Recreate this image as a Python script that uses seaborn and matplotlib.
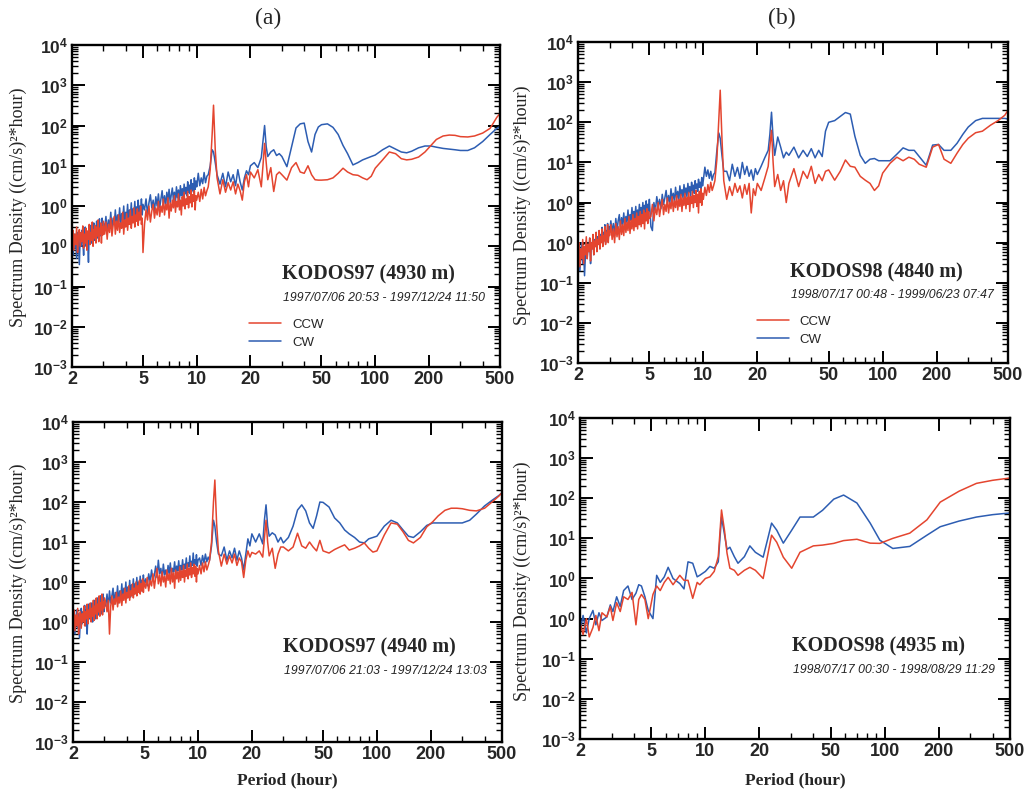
import matplotlib
matplotlib.use('Agg')
import matplotlib.pyplot as plt
import matplotlib.ticker as mticker
import seaborn as sns

# Periods (hour) shared by the three long records
period = [2.0, 2.025, 2.05, 2.075, 2.1, 2.125, 2.15, 2.175, 2.2, 2.225, 2.25, 2.275, 2.3, 2.325, 2.35, 2.375,
          2.4, 2.425, 2.45, 2.475, 2.5, 2.525, 2.55, 2.575, 2.6, 2.625, 2.65, 2.675, 2.7, 2.725, 2.75, 2.775,
          2.8, 2.825, 2.85, 2.875, 2.9, 2.925, 2.95, 2.975, 3.0,
          3.05, 3.1, 3.15, 3.2, 3.25, 3.3, 3.35, 3.4, 3.45, 3.5, 3.55, 3.6, 3.65, 3.7, 3.75, 3.8, 3.85, 3.9, 3.95, 4.0,
          4.05, 4.1, 4.15, 4.2, 4.25, 4.3, 4.35, 4.4, 4.45, 4.5, 4.55, 4.6, 4.65, 4.7, 4.75, 4.8, 4.85, 4.9, 4.95, 5.0,
          5.1, 5.2, 5.3, 5.4, 5.5, 5.6, 5.7, 5.8, 5.9, 6.0, 6.1, 6.2, 6.3, 6.4, 6.5, 6.6, 6.7, 6.8, 6.9, 7.0,
          7.1, 7.2, 7.3, 7.4, 7.5, 7.6, 7.7, 7.8, 7.9, 8.0, 8.1, 8.2, 8.3, 8.4, 8.5, 8.6, 8.7, 8.8, 8.9, 9.0,
          9.1, 9.2, 9.3, 9.4, 9.5, 9.6, 9.7, 9.8, 9.9, 10.0,
          10.2, 10.4, 10.6, 10.8, 11.0, 11.2, 11.4, 11.6,
          11.9, 12.2, 12.42, 12.7, 13.0,
          13.5, 14.0, 14.5, 15.0, 15.5, 16.0, 16.5, 17.0, 17.5, 18.0, 18.5, 19.0, 19.5, 20.0,
          21, 22, 23, 23.5, 24, 24.5, 25, 26, 27, 28, 29,
          30, 32, 34, 36, 38, 40, 42, 44, 46, 48, 50, 54, 58, 62, 66, 70, 75, 80, 85, 90, 95, 100,
          110, 120, 130, 140, 150, 160, 175, 190, 205, 220, 240, 260, 280, 300, 330, 360, 400, 440, 480, 500]

# KODOS97 (4930 m)
ccw_a = [0.14, 0.25, 0.08, 0.2, 0.11, 0.3, 0.07, 0.18, 0.26, 0.1,
         0.22, 0.13, 0.32, 0.09, 0.2, 0.12, 0.28, 0.08, 0.24, 0.15,
         0.35, 0.11, 0.22, 0.14, 0.4, 0.1, 0.26, 0.16, 0.33, 0.12,
         0.3, 0.18, 0.45, 0.13, 0.28, 0.2, 0.38, 0.12, 0.3, 0.19, 0.42,
         0.2, 0.4, 0.15, 0.35, 0.22, 0.5, 0.18, 0.33, 0.55, 0.2,
         0.42, 0.25, 0.6, 0.22, 0.38, 0.28, 0.7, 0.2, 0.45, 0.3,
         0.65, 0.25, 0.5, 0.35, 0.8, 0.28, 0.55, 0.38, 0.9, 0.3,
         0.6, 0.42, 0.85, 0.33, 0.7, 0.45, 1.0, 0.35, 0.5, 0.07,
         0.35, 0.8, 0.45, 1.0, 0.4, 0.75, 1.1, 0.5, 0.9, 0.6,
         1.3, 0.55, 1.0, 0.7, 1.5, 0.6, 1.1, 0.8, 1.6, 0.5,
         1.2, 0.75, 1.4, 0.9, 1.8, 0.7, 1.3, 0.95, 2.0, 0.8,
         1.4, 0.6, 1.7, 1.0, 2.2, 0.85, 1.5, 1.1, 2.3, 0.9,
         1.7, 1.2, 2.5, 0.95, 1.9, 1.3, 2.4, 0.8, 1.8, 1.4,
         2.2, 1.3, 2.6, 1.5, 2.9, 1.8, 2.4, 3.0,
         8, 60, 320, 25, 5,
         2.0, 4.5, 2.2, 3.8, 2.5, 4.0, 2.0, 3.5, 2.4, 1.4, 4.0, 6.0, 3.0, 7.0,
         5.0, 8.0, 3.0, 10, 36, 12, 4.5, 9.0, 2.3, 6.0, 7.0,
         6, 4.4, 9, 12, 7, 6.5, 10, 6, 4.5, 4.4, 4.4, 4.5, 5, 6.5, 8.7, 7, 6, 5.8, 5, 4.5, 5.5, 8.7,
         14, 22, 20, 15, 14, 14.5, 16.5, 22, 32, 45, 55, 58, 57, 53, 52, 55, 65, 85, 160, 200]
cw_a = [0.12, 0.06, 0.2, 0.09, 0.16, 0.05, 0.22, 0.12, 0.035, 0.18,
        0.1, 0.25, 0.13, 0.06, 0.2, 0.3, 0.1, 0.22, 0.14, 0.04,
        0.26, 0.15, 0.33, 0.12, 0.24, 0.18, 0.38, 0.14, 0.28, 0.2,
        0.42, 0.16, 0.3, 0.22, 0.48, 0.18, 0.35, 0.25, 0.5, 0.2, 0.38,
        0.28, 0.55, 0.22, 0.45, 0.3, 0.7, 0.25, 0.5, 0.35, 0.8,
        0.3, 0.6, 0.4, 0.9, 0.32, 0.65, 0.45, 1.0, 0.35, 0.7,
        0.5, 1.1, 0.4, 0.8, 0.55, 1.2, 0.45, 0.85, 0.6, 1.3,
        0.5, 0.95, 0.65, 1.4, 0.55, 1.0, 0.7, 1.5, 0.6, 1.1,
        0.8, 1.5, 0.65, 1.2, 1.9, 0.9, 1.4, 0.75, 1.7, 1.0,
        2.0, 0.9, 1.5, 2.4, 1.1, 1.8, 1.0, 2.2, 1.3, 2.6,
        1.2, 1.9, 2.8, 1.4, 2.2, 1.3, 3.0, 1.6, 2.5, 1.4,
        3.2, 1.8, 2.7, 1.6, 3.5, 2.0, 2.9, 1.8, 4.0, 2.2,
        3.3, 2.0, 4.5, 2.4, 3.6, 2.2, 5.0, 2.6, 4.2, 3.0,
        6.5, 3.2, 5.0, 3.6, 6.8, 3.8, 5.5, 6.0,
        10, 25, 22, 12, 6,
        3.5, 6.5, 3.0, 7.0, 4.0, 6.0, 3.2, 8.0, 4.0, 2.5, 5.0, 7.5, 6.0, 10,
        12, 9, 16, 40, 100, 30, 17, 22, 25, 18, 20,
        17, 9.5, 30, 87, 110, 115, 40, 22, 60, 92, 105, 110, 90, 60, 32, 20, 10.5, 12, 14, 15.5, 17, 18.5,
        25, 31, 26, 22, 21, 23, 28, 31, 31, 29, 27, 26, 25, 24, 24, 28, 40, 60, 85, 95]

# KODOS98 (4840 m)
ccw_b = [0.05, 0.1, 0.025, 0.07, 0.04, 0.12, 0.03, 0.08, 0.05, 0.14,
         0.04, 0.09, 0.06, 0.13, 0.035, 0.1, 0.07, 0.16, 0.05, 0.11,
         0.08, 0.18, 0.06, 0.12, 0.09, 0.2, 0.07, 0.14, 0.1, 0.22,
         0.08, 0.15, 0.11, 0.25, 0.09, 0.18, 0.12, 0.28, 0.1, 0.2, 0.15,
         0.28, 0.12, 0.22, 0.1, 0.3, 0.14, 0.25, 0.12, 0.35, 0.16,
         0.28, 0.15, 0.4, 0.18, 0.32, 0.2, 0.45, 0.17, 0.36, 0.22,
         0.5, 0.2, 0.4, 0.25, 0.55, 0.22, 0.45, 0.28, 0.6, 0.25,
         0.5, 0.3, 0.65, 0.22, 0.55, 0.35, 0.7, 0.3, 0.6, 0.4,
         0.45, 0.9, 0.35, 0.75, 0.5, 1.0, 0.45, 0.8, 1.2, 0.5,
         0.9, 0.6, 1.3, 0.55, 1.0, 0.7, 1.4, 0.6, 1.1, 0.75,
         1.5, 0.65, 1.2, 0.8, 1.6, 0.6, 1.3, 0.85, 1.7, 0.7,
         1.35, 0.9, 1.8, 0.6, 1.4, 0.95, 1.9, 0.75, 1.5, 1.0,
         2.0, 0.8, 1.6, 0.55, 1.9, 1.0, 2.2, 0.85, 1.7, 1.2,
         2.4, 1.5, 2.8, 1.8, 3.2, 2.0, 2.6, 3.5,
         12, 120, 630, 40, 3.5,
         1.2, 2.5, 1.5, 3.0, 1.8, 2.6, 1.3, 2.8, 1.6, 3.0, 0.55, 2.2, 1.5, 3.0,
         2.0, 4.0, 8.0, 25, 63, 10, 2.5, 5.0, 2.0, 3.5, 1.0,
         3.0, 7.0, 2.5, 6.0, 4.0, 8.0, 3.0, 5.0, 3.5, 6.0, 6.5, 3.6, 6.0, 11.5, 8.0, 7.6, 4.5, 3.6, 3.0, 2.0, 2.6, 5.4,
         9.5, 13.5, 11, 13.5, 12, 9, 7.6, 24, 28, 12, 9.5, 17, 28, 40, 55, 60, 85, 110, 150, 200]
cw_b = [0.04, 0.08, 0.02, 0.06, 0.1, 0.03, 0.07, 0.015, 0.05, 0.11,
        0.04, 0.09, 0.06, 0.13, 0.03, 0.1, 0.07, 0.15, 0.05, 0.12,
        0.08, 0.18, 0.06, 0.14, 0.1, 0.2, 0.07, 0.16, 0.11, 0.24,
        0.09, 0.18, 0.13, 0.28, 0.1, 0.2, 0.15, 0.3, 0.12, 0.25, 0.18,
        0.35, 0.18, 0.3, 0.15, 0.4, 0.2, 0.35, 0.5, 0.22, 0.42,
        0.28, 0.55, 0.25, 0.45, 0.32, 0.65, 0.28, 0.5, 0.36, 0.75,
        0.3, 0.6, 0.4, 0.8, 0.35, 0.65, 0.45, 0.9, 0.4, 0.75,
        0.5, 1.0, 0.45, 0.85, 0.55, 1.1, 0.5, 0.9, 0.6, 1.2,
        0.25, 0.2, 1.0, 0.6, 1.4, 0.8, 1.2, 0.7, 1.6, 0.9,
        1.3, 2.0, 1.0, 1.5, 0.9, 2.2, 1.2, 1.7, 1.0, 2.4,
        1.3, 1.9, 1.1, 2.6, 1.5, 2.1, 1.3, 2.8, 1.6, 2.3,
        1.4, 3.0, 1.8, 2.5, 1.5, 3.2, 2.0, 2.7, 1.7, 3.5,
        2.2, 2.9, 1.9, 3.8, 2.4, 3.2, 2.1, 4.2, 2.6, 3.6,
        7.6, 4.5, 6.5, 4.0, 6.0, 3.6, 5.0, 5.5,
        20, 54, 40, 15, 6,
        6, 3.5, 9, 4.5, 7.5, 4.0, 10, 5.0, 8.0, 4.5, 6.5, 3.6, 7.0, 5.0,
        8, 13, 20, 50, 178, 40, 15, 43, 24, 13, 18,
        15, 24, 13, 20, 14, 22, 13, 20, 14, 60, 100, 110, 140, 175, 160, 45, 15, 9.5, 12, 12.5, 11, 11,
        11, 16, 23, 20, 20, 14, 8.5, 27, 28, 20, 20, 30, 50, 76, 110, 125, 125, 125, 125, 120]

# KODOS97 (4940 m)
ccw_c = [0.1, 0.2, 0.06, 0.15, 0.08, 0.22, 0.05, 0.13, 0.18, 0.07,
         0.16, 0.1, 0.25, 0.08, 0.18, 0.12, 0.28, 0.09, 0.2, 0.13,
         0.3, 0.1, 0.22, 0.14, 0.35, 0.11, 0.25, 0.16, 0.4, 0.12,
         0.28, 0.18, 0.45, 0.14, 0.3, 0.2, 0.5, 0.15, 0.32, 0.22, 0.4,
         0.3, 0.18, 0.35, 0.05, 0.25, 0.45, 0.2, 0.38, 0.28, 0.55,
         0.24, 0.42, 0.3, 0.6, 0.26, 0.5, 0.35, 0.7, 0.3, 0.55,
         0.4, 0.8, 0.35, 0.6, 0.45, 0.9, 0.4, 0.7, 0.5, 1.0,
         0.45, 0.8, 0.55, 1.1, 0.5, 0.9, 0.6, 1.2, 0.55, 1.0,
         0.7, 1.3, 0.6, 1.1, 0.8, 1.6, 0.7, 1.3, 2.2, 0.9,
         1.5, 0.8, 1.8, 1.0, 1.4, 0.75, 2.0, 1.1, 1.6, 0.9,
         2.2, 1.0, 1.7, 0.7, 2.0, 1.2, 1.8, 1.0, 2.4, 1.1,
         1.9, 1.3, 2.6, 1.0, 2.0, 1.4, 2.8, 1.2, 2.2, 1.5,
         3.0, 1.3, 2.3, 1.6, 2.8, 1.4, 2.5, 1.0, 2.2, 1.6,
         2.6, 1.6, 3.0, 1.8, 3.2, 2.0, 2.6, 3.5,
         10, 100, 355, 30, 6,
         2.5, 5.0, 2.8, 4.5, 3.0, 5.0, 2.6, 4.0, 3.2, 1.3, 3.5, 6.0, 4.2, 5.5,
         5.0, 6.0, 4.2, 12, 35, 10, 4.5, 7.0, 2.2, 5.0, 7.5,
         7.5, 6.0, 7.5, 16.6, 8, 7, 10, 7.5, 6, 11, 6, 5.3, 6.5, 7.5, 8.5, 6.3, 7, 8, 9.5, 7, 5.6, 6,
         15, 30, 28, 18, 11, 9.5, 13, 24, 32, 45, 62, 70, 70, 68, 62, 60, 70, 100, 140, 170]
cw_c = [0.08, 0.15, 0.05, 0.12, 0.2, 0.07, 0.16, 0.04, 0.12, 0.22,
        0.09, 0.18, 0.11, 0.26, 0.08, 0.2, 0.05, 0.16, 0.28, 0.12,
        0.22, 0.14, 0.3, 0.1, 0.24, 0.16, 0.35, 0.12, 0.26, 0.18,
        0.4, 0.15, 0.3, 0.2, 0.45, 0.16, 0.32, 0.22, 0.5, 0.18, 0.35,
        0.25, 0.5, 0.22, 0.6, 0.3, 0.45, 0.7, 0.28, 0.55, 0.35,
        0.8, 0.3, 0.6, 0.4, 0.9, 0.35, 0.7, 0.45, 1.0, 0.4,
        0.75, 0.5, 1.1, 0.42, 0.85, 0.55, 1.2, 0.5, 0.9, 0.6,
        1.3, 0.55, 1.0, 0.65, 1.4, 0.6, 1.1, 0.7, 1.5, 0.8,
        1.2, 0.8, 1.6, 1.0, 2.0, 1.1, 1.5, 2.5, 1.3, 3.5,
        1.6, 2.2, 1.2, 2.8, 1.5, 2.0, 1.3, 2.6, 1.6, 3.0,
        1.5, 2.2, 1.8, 3.2, 1.6, 2.5, 1.9, 3.4, 1.7, 2.6,
        2.0, 3.6, 1.8, 2.8, 2.2, 4.0, 2.0, 3.0, 2.4, 4.5,
        2.2, 3.3, 2.6, 5.3, 2.4, 3.6, 2.8, 4.8, 2.5, 3.5,
        4.0, 2.6, 4.6, 3.0, 5.0, 3.2, 4.2, 3.5,
        8, 35, 25, 10, 5,
        4.5, 7.5, 3.5, 6.0, 4.0, 7.0, 3.5, 6.0, 4.0, 2.0, 5.0, 12, 8.0, 16,
        10, 16, 9, 35, 85, 25, 14, 17, 15, 10, 13,
        9.5, 13, 25, 63, 85, 60, 30, 22, 45, 100, 98, 75, 40, 30, 20, 16, 13, 10, 9.5, 12, 13, 14,
        25, 35, 30, 20, 14, 13, 18, 26, 30, 30, 30, 30, 30, 30, 35, 50, 80, 110, 145, 170]

# KODOS98 (4935 m), short record -> smoother spectrum
period_d = [2.0, 2.08, 2.17, 2.25, 2.36, 2.45, 2.55, 2.65, 2.82, 2.95,
            3.05, 3.2, 3.35, 3.5, 3.7, 3.9, 4.1, 4.25, 4.4, 4.6,
            4.8, 5.1, 5.35, 5.6, 5.9, 6.2, 6.6, 7.2, 7.6, 8.0,
            8.5, 9.0, 9.3, 10.0, 10.6, 11.2, 11.8, 12.3, 12.8, 13.2,
            13.7, 14.5, 15.2, 16.5, 17.7, 19.0, 21.0, 22.3, 23.4, 25.0,
            27.2, 30.3, 33.7, 40, 45, 52, 59, 70, 83, 94,
            111, 138, 172, 204, 260, 325, 400, 500]
ccw_d = [0.08, 0.04, 0.1, 0.035, 0.06, 0.12, 0.05, 0.14, 0.11, 0.2,
         0.09, 0.25, 0.15, 0.35, 0.3, 0.45, 0.07, 0.3, 0.4, 0.3,
         0.1, 0.4, 0.65, 0.5, 0.8, 1.07, 0.7, 1.2, 0.9, 0.9,
         0.32, 0.8, 0.7, 1.0, 1.1, 1.5, 3.5, 51, 15, 4.3,
         1.8, 1.6, 1.2, 1.6, 1.9, 1.6, 1.0, 4, 12, 8,
         3.4, 1.8, 4.5, 6.5, 6.8, 7.5, 8.8, 9.5, 7.6, 7.5,
         10, 13.5, 29, 80, 150, 235, 280, 320]
cw_d = [0.05, 0.12, 0.044, 0.1, 0.16, 0.07, 0.14, 0.09, 0.11, 0.22,
        0.15, 0.35, 0.2, 0.5, 0.65, 0.3, 0.43, 0.7, 0.65, 0.35,
        0.16, 0.1, 1.2, 0.8, 1.1, 1.9, 1.0, 0.75, 0.55, 2.6,
        2.4, 1.1, 1.2, 1.5, 2.0, 1.8, 2.6, 34, 12, 5.3,
        6.0, 3.5, 2.4, 3.5, 6.5, 4.5, 3.4, 10, 24, 16,
        7.6, 16, 34, 34, 50, 95, 120, 76, 24, 9,
        5.6, 6.3, 12, 19.5, 27, 34, 39, 43]

names = ['KODOS97 (4930 m)', 'KODOS98 (4840 m)', 'KODOS97 (4940 m)', 'KODOS98 (4935 m)']
dates = ['1997/07/06 20:53 - 1997/12/24 11:50', '1998/07/17 00:48 - 1999/06/23 07:47',
         '1997/07/06 21:03 - 1997/12/24 13:03', '1998/07/17 00:30 - 1998/08/29 11:29']

xticks = [2, 5, 10, 20, 50, 100, 200, 500]
xtick_labels = ['2', '5', '10', '20', '50', '100', '200', '500']
xminor = [3, 4, 6, 7, 8, 9, 30, 40, 60, 70, 80, 90, 300, 400]
yticks = [1e-4, 1e-3, 1e-2, 1e-1, 1e0, 1e1, 1e2, 1e3, 1e4]
# exponents as printed on the original figure
ytick_labels = ['-3', '-2', '-1', '0', '0', '1', '2', '3', '4']

RED = '#e4452f'
BLUE = '#2d5db2'
SERIF = 'Liberation Serif'
SANS = 'Liberation Sans'

sns.set_theme(style='ticks')
plt.rcParams['font.family'] = ['Liberation Sans', 'DejaVu Sans']
plt.rcParams['mathtext.fontset'] = 'custom'
plt.rcParams['mathtext.rm'] = 'Liberation Sans:bold'
plt.rcParams['mathtext.bf'] = 'Liberation Sans:bold'
plt.rcParams['axes.linewidth'] = 1.7
plt.rcParams['axes.edgecolor'] = 'black'


def draw_panel(ax, x, ccw, cw, name, date, legend, text_pos):
    sns.lineplot(x=x, y=cw, ax=ax, color=BLUE, lw=1.1, label='CW', estimator=None, sort=False)
    sns.lineplot(x=x, y=ccw, ax=ax, color=RED, lw=1.1, label='CCW', estimator=None, sort=False)
    ax.set_xscale('log')
    ax.set_yscale('log')
    ax.set_xlim(2, 500)
    ax.set_ylim(1e-4, 1e4)

    ax.xaxis.set_major_locator(mticker.FixedLocator(xticks))
    ax.xaxis.set_major_formatter(mticker.FixedFormatter(xtick_labels))
    ax.xaxis.set_minor_locator(mticker.FixedLocator(xminor))
    ax.xaxis.set_minor_formatter(mticker.NullFormatter())
    ax.yaxis.set_major_locator(mticker.FixedLocator(yticks))
    ax.yaxis.set_major_formatter(mticker.FixedFormatter(
        [r'$\mathbf{10^{%s}}$' % s for s in ytick_labels]))
    ax.yaxis.set_minor_locator(mticker.LogLocator(base=10, subs=range(2, 10), numticks=30))
    ax.yaxis.set_minor_formatter(mticker.NullFormatter())

    ax.tick_params(which='both', direction='in', top=True, right=True, color='black')
    ax.tick_params(which='major', length=9, width=1.4)
    ax.tick_params(which='minor', length=4.5, width=1.0)
    ax.tick_params(axis='x', which='major', pad=3, labelsize=13)
    ax.tick_params(axis='y', which='major', pad=3, labelsize=12.5)
    for lab in ax.get_xticklabels():
        lab.set_fontweight('bold')
    ax.set_xlabel('')
    ax.set_ylabel('')
    ax.grid(False)

    tx, ty = text_pos
    ax.text(tx, ty, name, transform=ax.transAxes, fontfamily=SERIF, fontweight='bold',
            fontsize=14.5, va='center', ha='left')
    ax.text(tx + 0.003, ty - 0.072, date, transform=ax.transAxes, fontfamily=SANS,
            style='italic', fontsize=8.8, va='center', ha='left', color='#222222')

    handles, labels = ax.get_legend_handles_labels()
    if legend:
        order = [labels.index('CCW'), labels.index('CW')]
        ax.legend([handles[i] for i in order], [labels[i] for i in order],
                  loc='upper left', bbox_to_anchor=(tx - 0.077, ty - 0.135),
                  frameon=False, handlelength=2.4, handletextpad=0.85,
                  labelspacing=0.45, borderpad=0, borderaxespad=0,
                  prop={'family': SANS, 'size': 9.5})
    elif ax.get_legend() is not None:
        ax.get_legend().remove()


fig = plt.figure(figsize=(10.25, 7.93), dpi=100)
ax_a = fig.add_axes([0.0702, 0.5372, 0.4176, 0.4060])
ax_b = fig.add_axes([0.5639, 0.5422, 0.4195, 0.4048])
ax_c = fig.add_axes([0.0712, 0.0643, 0.4185, 0.4035])
ax_d = fig.add_axes([0.5659, 0.0681, 0.4195, 0.4048])

draw_panel(ax_a, period, ccw_a, cw_a, names[0], dates[0], True, (0.491, 0.286))
draw_panel(ax_b, period, ccw_b, cw_b, names[1], dates[1], True, (0.493, 0.283))
draw_panel(ax_c, period, ccw_c, cw_c, names[2], dates[2], False, (0.490, 0.294))
draw_panel(ax_d, period_d, ccw_d, cw_d, names[3], dates[3], False, (0.493, 0.287))

fig.text(0.2615, 0.977, '(a)', fontfamily=SERIF, fontsize=17, ha='center', va='center')
fig.text(0.763, 0.977, '(b)', fontfamily=SERIF, fontsize=17, ha='center', va='center')

ylab = 'Spectrum Density ((cm/s)\u00b2*hour)'
for fx, fy in [(0.018, 0.739), (0.510, 0.741), (0.018, 0.265), (0.510, 0.267)]:
    fig.text(fx, fy, ylab, rotation=90, fontfamily=SERIF, fontsize=13, ha='center', va='center')
for fx in [0.280, 0.776]:
    fig.text(fx, 0.0164, 'Period (hour)', fontfamily=SERIF, fontweight='bold', fontsize=12.5,
             ha='center', va='center')

fig.savefig('out.png', dpi=100, facecolor='white')
